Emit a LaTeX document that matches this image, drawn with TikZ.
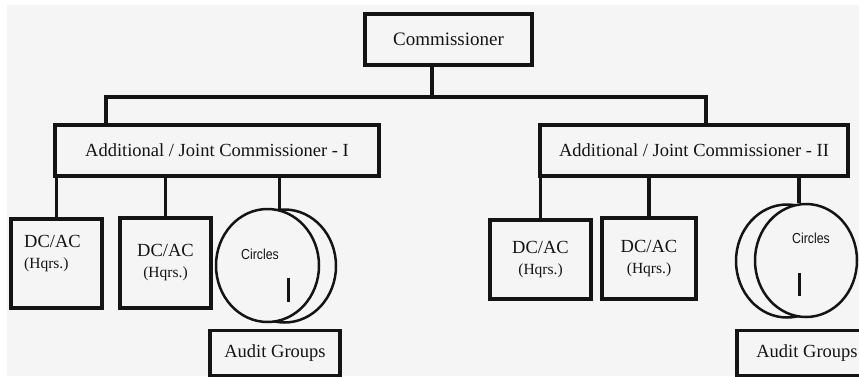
\documentclass[tikz,border=0pt]{standalone}
\usepackage{fontspec}
\setmainfont{Liberation Serif}
\newfontfamily\circfont{Liberation Sans}
\usetikzlibrary{shapes.geometric}
\definecolor{bg}{HTML}{F5F5F5}
\definecolor{ink}{HTML}{141414}
\begin{document}
\begin{tikzpicture}[x=1pt,y=-1pt,
  box/.style={draw=ink, line width=3.6pt, rectangle, inner sep=0pt, fill=bg, text=ink, align=center},
  big/.style={font=\fontsize{18.5}{22}\selectfont},
  conn/.style={draw=ink, line width=3.2pt},
  circ/.style={draw=ink, line width=2.5pt, ellipse, inner sep=0pt, fill=bg, minimum width=103pt, minimum height=113pt},
  lbl/.style={text=ink, inner sep=0pt, xscale=0.85, font=\circfont\fontsize{14.5}{16}\selectfont},
  bar/.style={draw=ink, line width=3pt},
  dctxt/.style={text=ink, inner sep=0pt, font=\fontsize{18.5}{24}\selectfont}]
\useasboundingbox (0,0) rectangle (859,376);
\fill[white] (0,0) rectangle (859,376);
\fill[bg] (7,5) rectangle (859,376);

% top
\node[box, minimum width=167pt, minimum height=51pt, font=\fontsize{19}{22}\selectfont] (comm) at (448.5,39.5) {Commissioner};
\node[box, big, minimum width=324pt, minimum height=51pt] (ajc1) at (217,150.5) {Additional / Joint Commissioner - I};
\node[box, big, minimum width=308pt, minimum height=51pt] (ajc2) at (694,150.5) {Additional / Joint Commissioner - II};

\coordinate (bus) at (432,97);
\coordinate (busL) at (106,97);
\coordinate (busR) at (706,97);
\draw[conn] (comm.south -| bus) -- (bus);
\draw[conn] (ajc1.north -| busL) -- (busL) -- (busR) -- (ajc2.north -| busR);

% left children
\node[box, minimum width=91pt, minimum height=89pt] (dc1) at (56.5,263.5) {};
\node[dctxt, anchor=west, align=left] (dc1t) at (24,253.5) {DC/AC\\[-3pt]{\fontsize{15.5}{18}\selectfont (Hqrs.)}};
\node[box, dctxt, minimum width=91pt, minimum height=90pt] (dc2) at (165.5,263) {DC/AC\\[-3pt]{\fontsize{15.5}{18}\selectfont (Hqrs.)}};

\node[circ] (cir1b) at (284.5,266) {};
\node[circ] (cir1) at (267.5,265.5) {};
\node[lbl] (cir1t) at (260,254) {Circles};
\draw[bar] ([xshift=20.5pt,yshift=-12.5pt]cir1.center) -- ([xshift=20.5pt,yshift=-36.5pt]cir1.center);
\node[box, big, minimum width=130pt, minimum height=45pt] (ag1) at (275,353) {Audit Groups};

\draw[conn] (ajc1.south -| dc1.north) -- (dc1.north);
\draw[conn] (ajc1.south -| dc2.north) -- (dc2.north);
\draw[conn] (ajc1.south -| cir1.78) -- (cir1.78);

% right children
\node[box, dctxt, minimum width=101pt, minimum height=79pt] (dc3) at (540.5,259.5) {DC/AC\\[-3pt]{\fontsize{15.5}{18}\selectfont (Hqrs.)}};
\node[box, dctxt, minimum width=94pt, minimum height=81pt] (dc4) at (649,258.5) {DC/AC\\[-3pt]{\fontsize{15.5}{18}\selectfont (Hqrs.)}};

\node[circ, minimum width=102pt] (cir2b) at (787,261) {};
\node[circ, minimum width=102pt] (cir2) at (806,260.5) {};
\node[lbl] (cir2t) at (811,238) {Circles};
\draw[bar] ([xshift=-7pt,yshift=-12.5pt]cir2.center) -- ([xshift=-7pt,yshift=-35.5pt]cir2.center);
\node[box, big, minimum width=140pt, minimum height=45pt] (ag2) at (807,353) {Audit Groups};

\draw[conn] (ajc2.south -| dc3.north) -- (dc3.north);
\draw[conn] (ajc2.south -| dc4.north) -- (dc4.north);
\draw[conn] (ajc2.south -| cir2.97) -- (cir2.97);
\end{tikzpicture}
\end{document}
